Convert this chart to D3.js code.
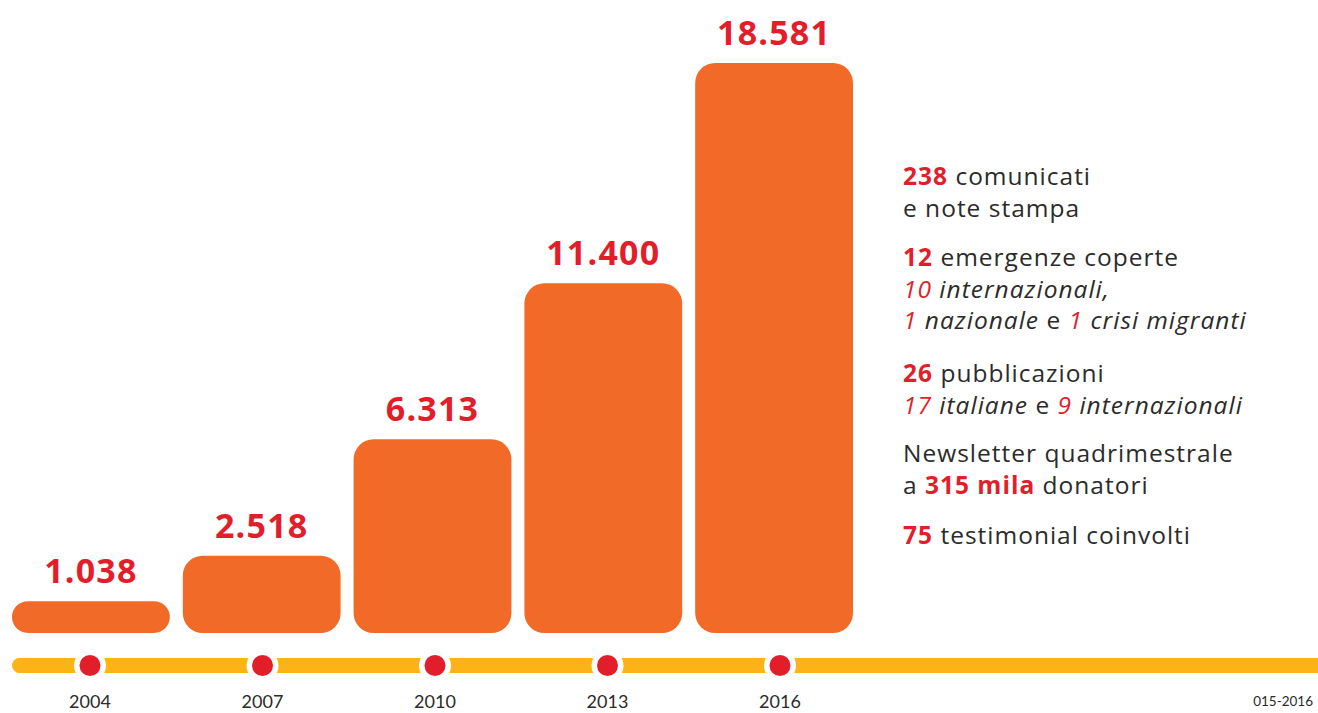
<!DOCTYPE html>
<html>
<head>
<meta charset="utf-8">
<script src="https://cdn.jsdelivr.net/npm/d3@7"></script>
<style>
  html, body { margin: 0; padding: 0; background: #fff; }
  svg { display: block; }
</style>
</head>
<body>
<svg id="chart" width="1318" height="713"></svg>
<script>
// Beneficiari raggiunti per anno
const years = ["2004", "2007", "2010", "2013", "2016"];
const values = [1038, 2518, 6313, 11400, 18581];

// Note a destra: ogni riga è una lista di segmenti [testo, stile]
// stile: "n" normale, "b" numero rosso in grassetto, "i" corsivo, "ri" numero rosso corsivo
const notes = [
  [[["238", "b"], [" comunicati", "n"]], [["e note stampa", "n"]]],
  [[["12", "b"], [" emergenze coperte", "n"]],
   [["10", "ri"], [" internazionali,", "i"]],
   [["1", "ri"], [" nazionale", "i"], [" e ", "n"], ["1", "ri"], [" crisi migranti", "i"]]],
  [[["26", "b"], [" pubblicazioni", "n"]],
   [["17", "ri"], [" italiane", "i"], [" e ", "n"], ["9", "ri"], [" internazionali", "i"]]],
  [[["Newsletter quadrimestrale", "n"]], [["a ", "n"], ["315 mila", "b"], [" donatori", "n"]]],
  [[["75", "b"], [" testimonial coinvolti", "n"]]]
];

const footnote = "015-2016";

const ORANGE = "#F26A27";
const RED = "#E31E2B";
const YELLOW = "#FCB316";
const TEXT = "#2b2b2b";

const svg = d3.select("#chart");

const baseY = 633;
const x = d3.scaleBand().domain(years).range([12, 853]).paddingInner(0.076).paddingOuter(0);
const y = d3.scaleLinear().domain([0, 18581]).range([baseY, 63]);
const xt = d3.scalePoint().domain(years).range([90, 780]);

const it = d3.formatLocale({ decimal: ",", thousands: ".", grouping: [3], currency: ["€", ""] });
const fmt = it.format(",d");

// Barre arrotondate
svg.append("g").selectAll("rect")
  .data(years.map((yr, i) => ({ yr, v: values[i] })))
  .join("rect")
  .attr("x", d => x(d.yr))
  .attr("y", d => y(d.v))
  .attr("width", x.bandwidth())
  .attr("height", d => baseY - y(d.v))
  .attr("rx", d => Math.min(20, (baseY - y(d.v)) / 2))
  .attr("fill", ORANGE);

// Valori sopra le barre
svg.append("g").selectAll("text")
  .data(years.map((yr, i) => ({ yr, v: values[i] })))
  .join("text")
  .attr("x", d => x(d.yr) + x.bandwidth() / 2)
  .attr("y", d => y(d.v) - 18)
  .attr("text-anchor", "middle")
  .attr("font-family", "'Open Sans', sans-serif")
  .attr("font-weight", 700)
  .attr("font-size", 34)
  .attr("letter-spacing", 1.2)
  .attr("fill", RED)
  .text(d => fmt(d.v));

// Linea del tempo
const lineY = 665.5;
svg.append("line")
  .attr("x1", 19.5).attr("x2", 1330)
  .attr("y1", lineY).attr("y2", lineY)
  .attr("stroke", YELLOW)
  .attr("stroke-width", 15)
  .attr("stroke-linecap", "round");

const ticks = svg.append("g").selectAll("g")
  .data(years)
  .join("g")
  .attr("transform", d => `translate(${xt(d)},${lineY})`);
ticks.append("circle").attr("r", 16).attr("fill", "#fff");
ticks.append("circle").attr("r", 10.5).attr("fill", RED);

// Anni
svg.append("g").selectAll("text")
  .data(years)
  .join("text")
  .attr("x", d => xt(d))
  .attr("y", 708)
  .attr("text-anchor", "middle")
  .attr("font-family", "Lato, sans-serif")
  .attr("font-size", 18)
  .attr("fill", TEXT)
  .text(d => d);

// Note testuali a destra
const noteX = 903;
const blockTops = [185, 266, 382, 462, 544];
const lineH = 31.5;
const notesG = svg.append("g")
  .attr("font-family", "'Open Sans', sans-serif")
  .attr("font-size", 24.5)
  .attr("letter-spacing", 1);

notes.forEach((block, bi) => {
  block.forEach((line, li) => {
    const t = notesG.append("text")
      .attr("x", noteX)
      .attr("y", blockTops[bi] + li * lineH)
      .attr("fill", TEXT)
      .attr("xml:space", "preserve");
    line.forEach(([txt, st]) => {
      const s = t.append("tspan").text(txt);
      if (st === "b") s.attr("fill", RED).attr("font-weight", 700);
      if (st === "i") s.attr("font-style", "italic");
      if (st === "ri") s.attr("fill", RED).attr("font-style", "italic");
    });
  });
});

// Nota a piè di pagina
svg.append("text")
  .attr("x", 1313)
  .attr("y", 706)
  .attr("text-anchor", "end")
  .attr("font-family", "Lato, sans-serif")
  .attr("font-size", 13.5)
  .attr("fill", TEXT)
  .text(footnote);
</script>
</body>
</html>
